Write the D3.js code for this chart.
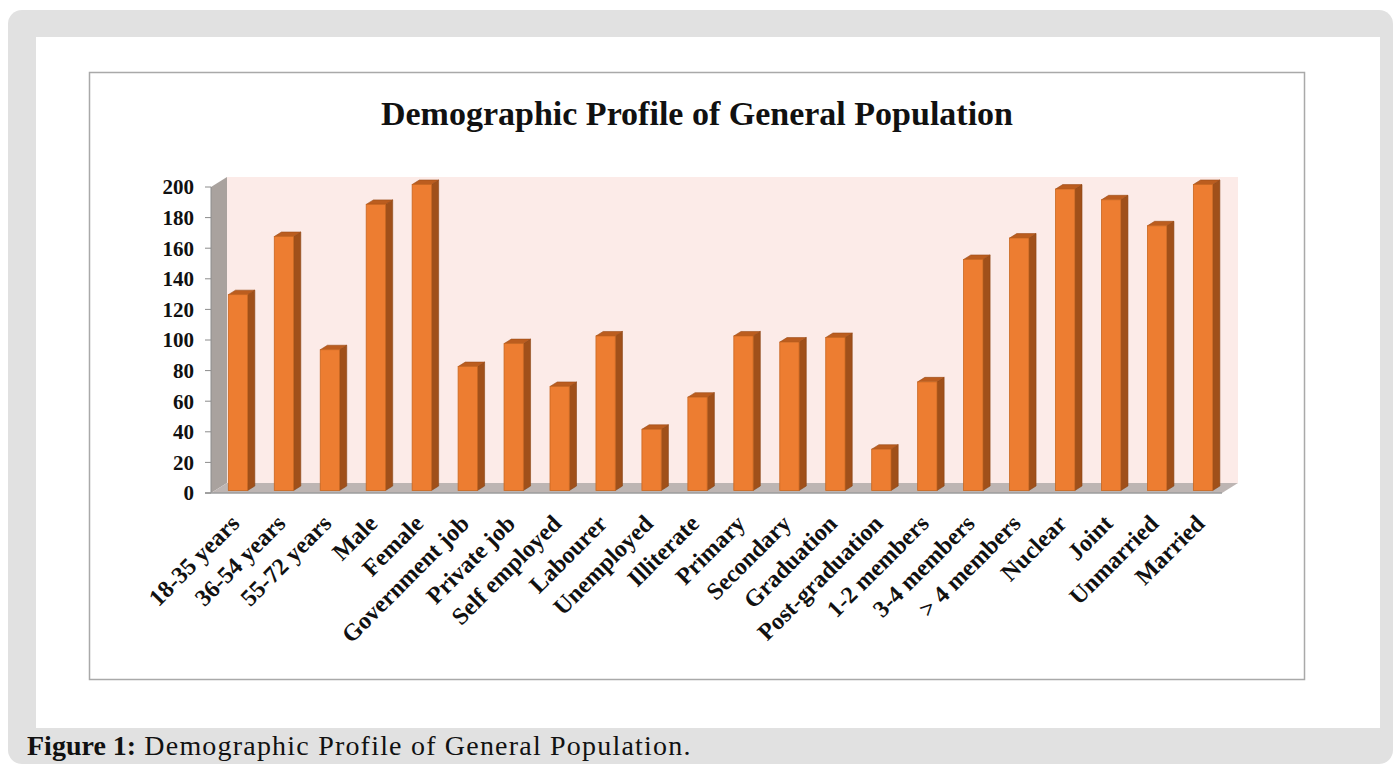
<!DOCTYPE html>
<html lang="en">
<head>
    <meta charset="UTF-8">
    <title>Demographic Profile of General Population</title>
    <script src="https://d3js.org/d3.v7.min.js"></script>
    <style>
        body {
            margin: 0;
            background: #fff;
        }
        text {
            font-family: "Liberation Serif", "Times New Roman", serif;
            fill: #111;
        }
        .title {
            font-size: 34px;
            font-weight: bold;
            text-anchor: middle;
        }
        .ytick {
            font-size: 21px;
            font-weight: bold;
            text-anchor: end;
        }
        .xlabel {
            font-size: 24px;
            font-weight: bold;
            text-anchor: end;
        }
        .caption {
            font-size: 28px;
        }
    </style>
</head>
<body>
<script>
    const width = 1394;
    const height = 766;

    const categories = ["18-35 years", "36-54 years", "55-72 years", "Male", "Female",
        "Government job", "Private job", "Self employed", "Labourer", "Unemployed",
        "Illiterate", "Primary", "Secondary", "Graduation", "Post-graduation",
        "1-2 members", "3-4 members", "> 4 members", "Nuclear", "Joint",
        "Unmarried", "Married"];
    const values = [128, 166, 92, 187, 200,
        81, 96, 68, 101, 40,
        61, 101, 97, 100, 27,
        71, 151, 165, 197, 190,
        173, 200];
    const yTicks = [0, 20, 40, 60, 80, 100, 120, 140, 160, 180, 200];

    // depth of the 3d box
    const DX = 16, DY = -10;
    const front = 0.25, back = 0.7;

    const x = d3.scaleBand().domain(categories).range([211, 1222])
        .paddingInner(0.58).paddingOuter(0.29);
    const y = d3.scaleLinear().domain([0, 200]).range([493, 187]);

    const svg = d3.select("body").append("svg").attr("width", width).attr("height", height);

    drawFrame(svg);
    drawWalls(svg.append("g").attr("class", "walls"));
    drawBars(svg.append("g").attr("class", "bars"));
    drawAxes(svg.append("g").attr("class", "axes"));

    function drawFrame(svg) {
        svg.append("rect").attr("x", 8).attr("y", 10).attr("width", 1385).attr("height", 754)
            .attr("rx", 14).attr("fill", "#e1e1e1");
        svg.append("rect").attr("x", 36).attr("y", 37).attr("width", 1344).attr("height", 691)
            .attr("fill", "#fff");
        svg.append("rect").attr("x", 89.5).attr("y", 72.5).attr("width", 1215).attr("height", 607)
            .attr("fill", "#fff").attr("stroke", "#a9a9a9").attr("stroke-width", 1.5);
        svg.append("text").attr("class", "title").attr("x", 697).attr("y", 125)
            .text("Demographic Profile of General Population");

        const cap = svg.append("text").attr("class", "caption").attr("x", 27).attr("y", 755);
        cap.append("tspan").attr("font-weight", "bold").text("Figure 1:");
        cap.append("tspan").attr("letter-spacing", "1.2px").text(" Demographic Profile of General Population.");
    }

    function pts(arr) {
        return arr.map(p => p.join(",")).join(" ");
    }

    function drawWalls(g) {
        const x0 = x.range()[0], x1 = x.range()[1];
        const yb = y(0), yt = y(200);
        // back wall
        g.append("polygon").attr("fill", "#fcebe8")
            .attr("points", pts([[x0 + DX, yt + DY], [x1 + DX, yt + DY], [x1 + DX, yb + DY], [x0 + DX, yb + DY]]));
        // left wall
        g.append("polygon").attr("fill", "#a9a29e")
            .attr("points", pts([[x0, yt], [x0 + DX, yt + DY], [x0 + DX, yb + DY], [x0, yb]]));
        // floor
        g.append("polygon").attr("fill", "#bdb5b3")
            .attr("points", pts([[x0, yb], [x0 + DX, yb + DY], [x1 + DX, yb + DY], [x1, yb]]));
    }

    function drawBars(g) {
        const bw = x.bandwidth();
        const fdx = DX * front, fdy = DY * front, bdx = DX * back, bdy = DY * back;
        const bar = g.selectAll("g")
            .data(categories.map((c, i) => ({name: c, value: values[i]})))
            .enter()
            .append("g");

        // side
        bar.append("polygon").attr("fill", "#a0501a").attr("stroke", "#8a4415").attr("stroke-width", 0.6)
            .attr("points", d => {
                const xr = x(d.name) + bw, yv = y(d.value), y0 = y(0);
                return pts([[xr + fdx, yv + fdy], [xr + bdx, yv + bdy], [xr + bdx, y0 + bdy], [xr + fdx, y0 + fdy]]);
            });
        // top
        bar.append("polygon").attr("fill", "#bb5d1f").attr("stroke", "#9a4b17").attr("stroke-width", 0.6)
            .attr("points", d => {
                const xl = x(d.name), xr = xl + bw, yv = y(d.value);
                return pts([[xl + fdx, yv + fdy], [xr + fdx, yv + fdy], [xr + bdx, yv + bdy], [xl + bdx, yv + bdy]]);
            });
        // front
        bar.append("rect").attr("fill", "#ed7d31").attr("stroke", "#c9661f").attr("stroke-width", 0.8)
            .attr("x", d => x(d.name) + fdx)
            .attr("y", d => y(d.value) + fdy)
            .attr("width", bw)
            .attr("height", d => y(0) - y(d.value));
    }

    function drawAxes(g) {
        const x0 = x.range()[0], x1 = x.range()[1];
        g.append("line").attr("x1", x0).attr("x2", x0).attr("y1", y(200)).attr("y2", y(0))
            .attr("stroke", "#8c8c8c");
        g.append("line").attr("x1", x0 - 6).attr("x2", x1).attr("y1", y(0)).attr("y2", y(0))
            .attr("stroke", "#9c9c9c").attr("stroke-width", 1.5);

        g.selectAll("line.tick").data(yTicks).enter().append("line").attr("class", "tick")
            .attr("x1", x0 - 6).attr("x2", x0).attr("y1", d => y(d)).attr("y2", d => y(d))
            .attr("stroke", "#8c8c8c");
        g.selectAll("text.ytick").data(yTicks).enter().append("text").attr("class", "ytick")
            .attr("x", 194).attr("y", d => y(d)).attr("dy", "0.35em")
            .text(d => d);

        g.selectAll("text.xlabel").data(categories).enter().append("text").attr("class", "xlabel")
            .attr("transform", d => `translate(${x(d) + x.bandwidth() / 2 + 1},519) rotate(-45)`)
            .attr("dy", "0.35em")
            .text(d => d);
    }
</script>
</body>
</html>
